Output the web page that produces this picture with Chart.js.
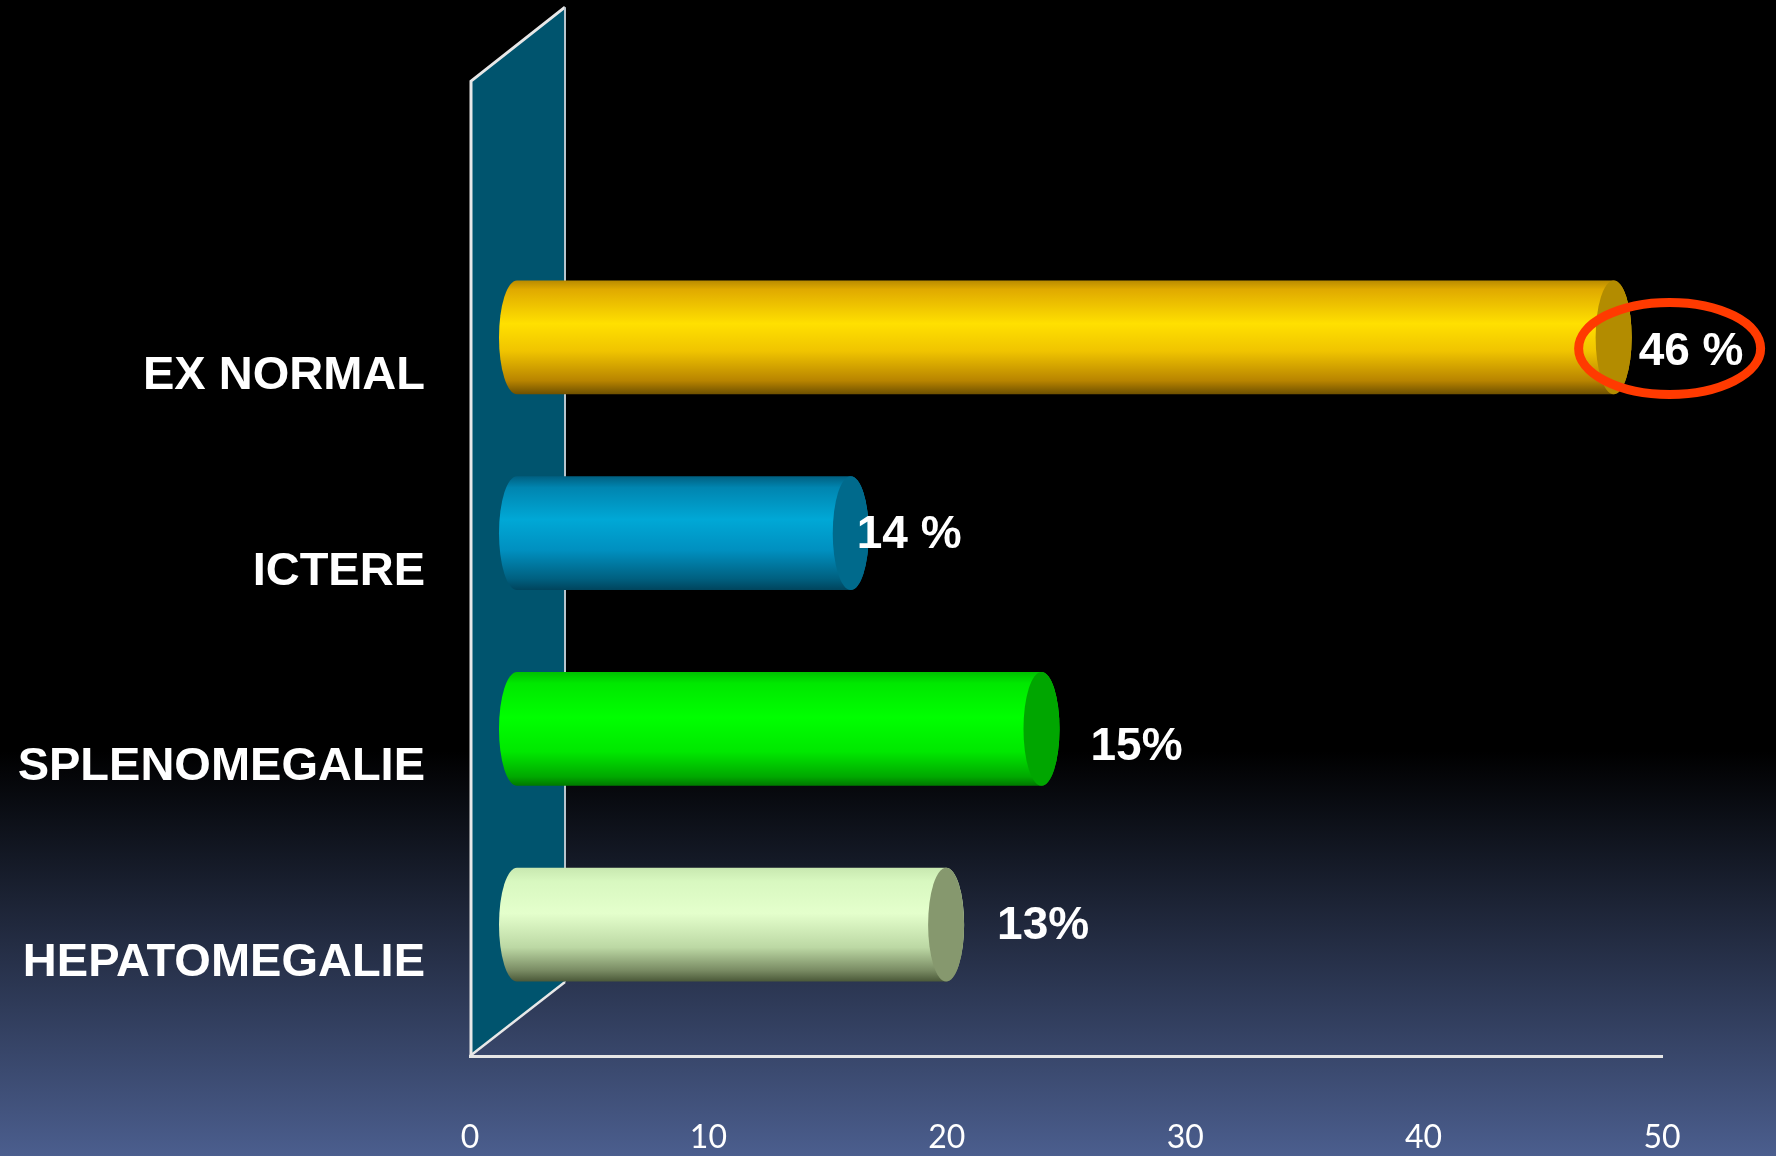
<!DOCTYPE html>
<html>
<head>
<meta charset="utf-8">
<script src="https://cdn.jsdelivr.net/npm/chart.js@4/dist/chart.umd.min.js"></script>
<style>
  html, body { margin: 0; padding: 0; background: #000; }
  #wrap { width: 1776px; height: 1156px; position: relative; }
</style>
</head>
<body>
<div id="wrap"><canvas id="ctx"></canvas></div>
<script>
// data
const categories = ['EX NORMAL', 'ICTERE', 'SPLENOMEGALIE', 'HEPATOMEGALIE'];
const barValues = [46, 14, 22, 18];            // length of each cylinder on the axis
const valueLabels = ['46 %', '14 %', '15%', '13%']; // texts typed next to the bars
const xTicks = [0, 10, 20, 30, 40, 50];

// look of the cylinders (top -> bottom gradient, then end cap colour)
const palette = [
  { body: [[0, '#b88a00'], [0.08, '#e0aa00'], [0.38, '#ffe000'], [0.62, '#f0c400'], [0.88, '#b88400'], [1, '#6e5000']], cap: '#b38c00' },
  { body: [[0, '#005f80'], [0.1, '#0085b0'], [0.38, '#00a8d6'], [0.65, '#0090c0'], [0.9, '#006080'], [1, '#00445c']], cap: '#006a8c' },
  { body: [[0, '#00c000'], [0.1, '#00e800'], [0.4, '#00ff00'], [0.7, '#00e800'], [0.92, '#00a800'], [1, '#007800']], cap: '#00a600' },
  { body: [[0, '#c8e8b0'], [0.12, '#d8f8c0'], [0.4, '#e4ffcc'], [0.7, '#bcd8a4'], [0.9, '#7a8c64'], [1, '#4a5838']], cap: '#86986e' }
];
// small hand placement of the typed labels, relative to the end of each bar
const labelNudge = [[25, 15], [6, 2], [49, 18], [51, 2]];

const depthX = 95, depthY = 74;   // 3d wall depth
const barDX = 47, barDY = 33.5;   // bars sit about half way in the depth
const capRX = 18;

function drawCylinder(ctx, x0, x1, yc, h, col) {
    const top = yc - h / 2, bot = yc + h / 2, ry = h / 2;
    const g = ctx.createLinearGradient(0, top, 0, bot);
    col.body.forEach(s => g.addColorStop(s[0], s[1]));
    ctx.beginPath();
    ctx.moveTo(x1, top);
    ctx.lineTo(x0, top);
    ctx.ellipse(x0, yc, capRX, ry, 0, -Math.PI / 2, Math.PI / 2, true);
    ctx.lineTo(x1, bot);
    ctx.ellipse(x1, yc, capRX, ry, 0, Math.PI / 2, -Math.PI / 2, true);
    ctx.closePath();
    ctx.fillStyle = g;
    ctx.fill();
    ctx.beginPath();
    ctx.ellipse(x1, yc, capRX, ry, 0, 0, Math.PI * 2);
    ctx.fillStyle = col.cap;
    ctx.fill();
}

const scenePlugin = {
    id: 'scene',
    beforeDraw(chart) {
        const { ctx, width, height } = chart;
        const g = ctx.createLinearGradient(0, 0, 0, height);
        g.addColorStop(0, '#000000');
        g.addColorStop(0.65, '#000000');
        g.addColorStop(1, '#4b5e8e');
        ctx.save();
        ctx.fillStyle = g;
        ctx.fillRect(0, 0, width, height);
        ctx.restore();
    },
    beforeDatasetsDraw(chart) {
        const { ctx, chartArea } = chart;
        const band = (chartArea.bottom - chartArea.top) / categories.length;
        const L = chartArea.left, B = chartArea.bottom;
        const T = chartArea.top - band * 0.98;
        ctx.save();
        ctx.beginPath();
        ctx.moveTo(L, T);
        ctx.lineTo(L + depthX, T - depthY);
        ctx.lineTo(L + depthX, B - depthY);
        ctx.lineTo(L, B);
        ctx.closePath();
        ctx.fillStyle = '#00546e';
        ctx.fill();
        // outline
        ctx.strokeStyle = '#e8e8e8';
        ctx.lineWidth = 3;
        ctx.beginPath();
        ctx.moveTo(L + 1, B);
        ctx.lineTo(L + 1, T);
        ctx.lineTo(L + depthX, T - depthY);
        ctx.stroke();
        ctx.lineWidth = 2.5;
        ctx.beginPath();
        ctx.moveTo(L, B);
        ctx.lineTo(L + depthX, B - depthY);
        ctx.stroke();
        ctx.strokeStyle = '#b8c4cc';
        ctx.lineWidth = 2;
        ctx.beginPath();
        ctx.moveTo(L + depthX, T - depthY);
        ctx.lineTo(L + depthX, B - depthY);
        ctx.stroke();
        ctx.restore();
    },
    afterDatasetsDraw(chart) {
        const { ctx } = chart;
        const meta = chart.getDatasetMeta(0);
        ctx.save();
        meta.data.forEach((bar, i) => {
            const x0 = bar.base + barDX;
            const x1 = bar.x + barDX;
            const yc = bar.y - barDY;
            drawCylinder(ctx, x0, x1, yc, bar.height, palette[i]);
        });
        ctx.font = 'bold 46px "Liberation Sans", Arial, sans-serif';
        ctx.fillStyle = '#ffffff';
        ctx.textAlign = 'left';
        ctx.textBaseline = 'middle';
        meta.data.forEach((bar, i) => {
            const x1 = bar.x + barDX;
            const yc = bar.y - barDY;
            ctx.fillText(valueLabels[i], x1 + labelNudge[i][0], yc + labelNudge[i][1]);
        });
        // red ring round the first value
        const first = meta.data[0];
        ctx.beginPath();
        ctx.ellipse(first.x + barDX + 56, first.y - barDY + 11, 91, 46, 0, 0, Math.PI * 2);
        ctx.strokeStyle = '#ff3a00';
        ctx.lineWidth = 9;
        ctx.stroke();
        ctx.restore();
    }
};

new Chart(document.getElementById('ctx'), {
    type: 'bar',
    data: {
        labels: categories,
        datasets: [{
            data: barValues,
            backgroundColor: 'rgba(0,0,0,0)',
            borderWidth: 0,
            categoryPercentage: 1,
            barPercentage: 0.582
        }]
    },
    options: {
        indexAxis: 'y',
        responsive: true,
        maintainAspectRatio: false,
        animation: false,
        layout: { padding: { top: 273, right: 114, left: 0, bottom: 0 } },
        scales: {
            x: {
                min: xTicks[0],
                max: xTicks[xTicks.length - 1],
                afterBuildTicks: (scale) => { scale.ticks = xTicks.map(v => ({ value: v })); },
                afterFit: (scale) => { scale.height = 100; },
                grid: { display: false, drawTicks: false },
                border: { display: true, color: '#e6e6e6', width: 3 },
                ticks: {
                    color: '#ffffff',
                    padding: 62,
                    maxRotation: 0,
                    font: { family: 'Lato, "Open Sans", sans-serif', size: 32 }
                }
            },
            y: {
                afterFit: (scale) => { scale.width = 470; },
                grid: { display: false, drawTicks: false },
                border: { display: false },
                ticks: {
                    color: '#ffffff',
                    padding: 45,
                    labelOffset: 5,
                    font: { family: '"Liberation Sans", Arial, sans-serif', size: 47, weight: 'bold' }
                }
            }
        },
        plugins: {
            legend: { display: false },
            tooltip: { enabled: false }
        }
    },
    plugins: [scenePlugin]
});
</script>
</body>
</html>
